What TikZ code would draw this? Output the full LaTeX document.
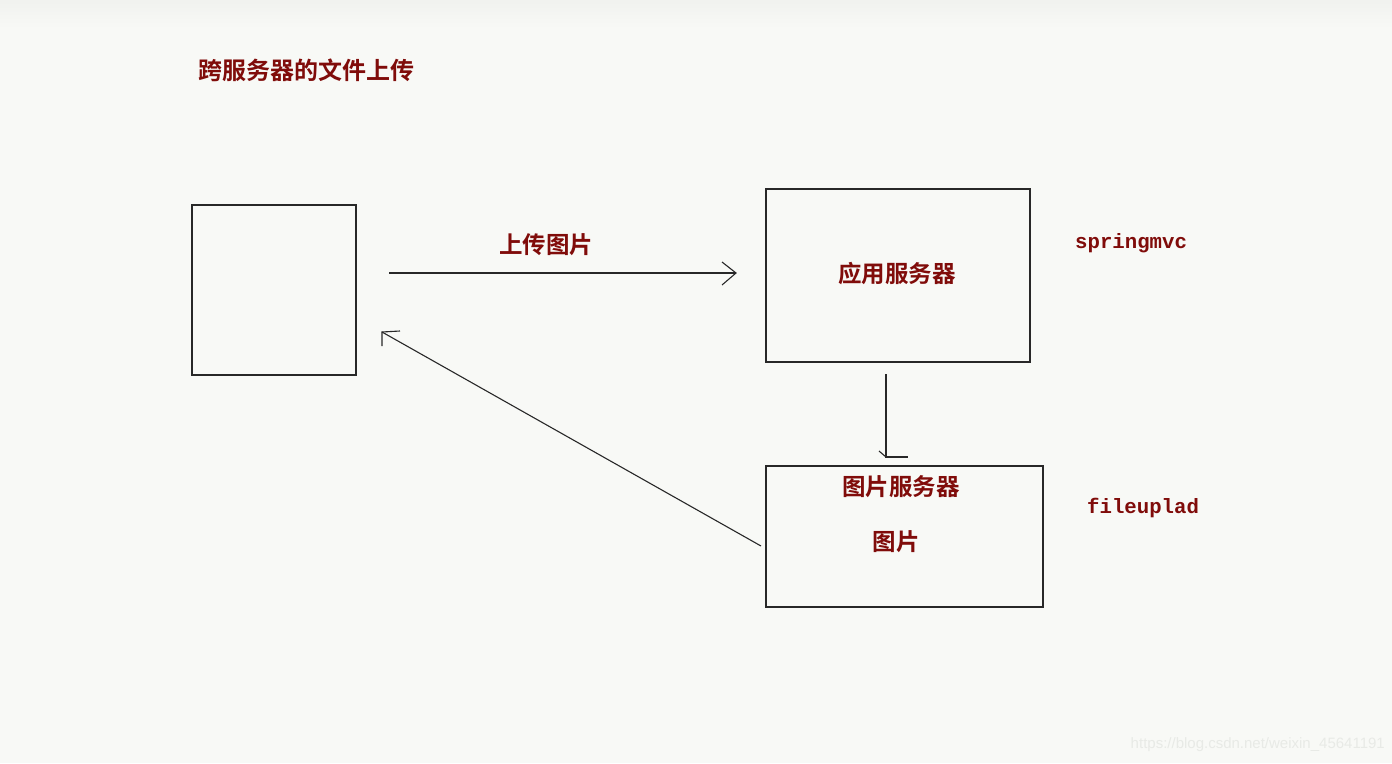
\documentclass[tikz,border=0pt]{standalone}
\usepackage{fontspec}
\usetikzlibrary{calc}
\newfontfamily\cjk{Noto Sans CJK SC}[BoldFont={Noto Sans CJK SC Bold}]
\newfontfamily\monob{Liberation Mono}
\definecolor{bg}{RGB}{248,249,246}
\definecolor{txtred}{RGB}{128,12,10}
\definecolor{linec}{RGB}{40,40,40}
\definecolor{wm}{RGB}{232,234,230}
\begin{document}
\begin{tikzpicture}[x=1pt,y=-1pt,
  box/.style={draw=linec,line width=1.3pt},
  conn/.style={draw=linec,line width=1.1pt},
  cjklabel/.style={text=txtred,font=\cjk\bfseries\fontsize{23.5}{23.5}\selectfont,inner sep=0pt},
  monolabel/.style={text=txtred,font=\monob\bfseries\fontsize{20.7}{20.7}\selectfont,inner sep=0pt}]
\fill[bg] (0,0) rectangle (1392,763);
\fill[top color=black!3!bg,bottom color=bg] (0,0) rectangle (1392,28);
\useasboundingbox (0,0) rectangle (1392,763);
% title
\node[cjklabel,anchor=west,font=\cjk\bfseries\fontsize{24}{24}\selectfont] (title) at (198,70) {跨服务器的文件上传};
% boxes
\draw[box] (192,205) rectangle (356,375);
\coordinate (client) at (274,290);
\draw[box] (766,189) rectangle (1030,362);
\draw[box] (766,466) rectangle (1043,607);
\node[cjklabel] (app) at (897,274) {应用服务器};
\node[cjklabel] (imgsrv) at (901,487) {图片服务器};
\node[cjklabel] (img) at (896,542) {图片};
\node[cjklabel] (upl) at (546,245) {上传图片};
\node[monolabel,anchor=west] (smvc) at (1075,243) {springmvc};
\node[monolabel,anchor=west] (fup) at (1087,508) {fileuplad};
% upload arrow
\coordinate (u1) at (389,273);
\coordinate (u2) at (736,273);
\draw[conn] (u1) -- (u2);
\draw[conn] ($(u2)+(-14,-11)$) -- (u2) -- ($(u2)+(-14,12)$);
% down arrow
\coordinate (d1) at (886,374);
\coordinate (d2) at (886,457);
\draw[conn] (d1) -- (d2) -- (908,457);
\draw[conn] (879,451) -- (d2);
% back arrow
\coordinate (b1) at (761,546);
\coordinate (b2) at (382,332);
\draw[conn] (b1) -- (b2);
\draw[conn] (400,331) -- (b2) -- (382,346);
% watermark
\node[text=wm,font=\fontspec{Liberation Sans}\fontsize{15}{15}\selectfont,anchor=east,inner sep=0pt] (wmk) at (1385,745) {https://blog.csdn.net/weixin\_45641191};
\end{tikzpicture}
\end{document}
